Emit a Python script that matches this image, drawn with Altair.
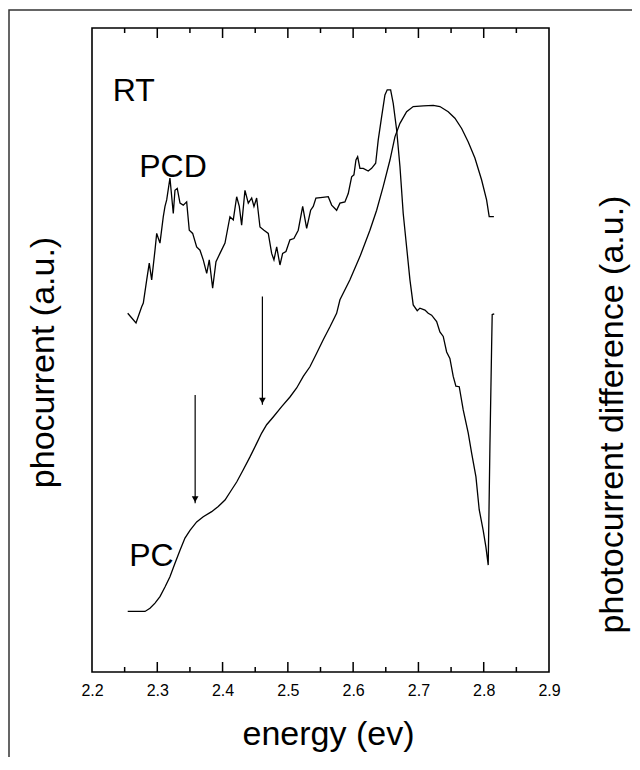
import altair as alt
import pandas as pd

# ---- data (energy in eV, signal in arbitrary units 0..100) ----
pcd_e = [2.2547, 2.2674, 2.2761, 2.2786, 2.2838, 2.2877, 2.2914, 2.2965, 2.2991, 2.3041,
         2.3092, 2.3118, 2.3144, 2.3194, 2.3245, 2.3271, 2.3306, 2.3348, 2.3398, 2.3450,
         2.3490, 2.3542, 2.3603, 2.3654, 2.3704, 2.3757, 2.3796, 2.3848, 2.3899, 2.3960,
         2.4037, 2.4113, 2.4164, 2.4216, 2.4256, 2.4292, 2.4343, 2.4394, 2.4446, 2.4481,
         2.4522, 2.4573, 2.4634, 2.4700, 2.4752, 2.4787, 2.4829, 2.4879, 2.4920, 2.4971,
         2.5032, 2.5093, 2.5159, 2.5227, 2.5288, 2.5349, 2.5389, 2.5430, 2.5533, 2.5619,
         2.5671, 2.5747, 2.5798, 2.5874, 2.5925, 2.5977, 2.6012, 2.6043, 2.6069, 2.6104,
         2.6155, 2.6231, 2.6283, 2.6345, 2.6384, 2.6436, 2.6487, 2.6522, 2.6574, 2.6614,
         2.6666, 2.6717, 2.6767, 2.6819, 2.6870, 2.6920, 2.6982, 2.7023, 2.7100, 2.7150,
         2.7202, 2.7279, 2.7329, 2.7380, 2.7432, 2.7482, 2.7533, 2.7574, 2.7625, 2.7686,
         2.7763, 2.7815, 2.7881, 2.7931, 2.7992, 2.8034, 2.8069, 2.8095, 2.8121, 2.8130,
         2.8161]
pcd_v = [55.7, 54.2, 56.7, 57.3, 60.9, 63.5, 60.9, 65.5, 68.1, 66.6,
         70.7, 72.3, 73.3, 76.7, 71.2, 74.8, 75.1, 72.8, 72.5, 73.0,
         68.6, 68.1, 66.0, 65.5, 64.0, 61.9, 64.0, 59.6, 63.7, 65.0,
         66.6, 70.7, 70.2, 73.8, 72.3, 69.4, 74.8, 72.8, 73.6, 72.3,
         73.6, 69.1, 68.6, 68.1, 65.0, 64.0, 66.0, 63.2, 65.0, 65.3,
         67.1, 67.3, 68.6, 72.3, 68.9, 71.7, 72.3, 73.6, 73.7, 73.8,
         72.5, 71.7, 72.8, 73.0, 74.3, 76.9, 77.2, 79.5, 80.0, 78.2,
         78.2, 77.8, 78.2, 79.0, 82.6, 86.2, 89.6, 90.4, 90.4, 88.3,
         84.2, 78.5, 71.2, 66.0, 60.9, 57.0, 56.1, 56.5, 56.2, 55.7,
         55.4, 54.4, 52.8, 52.1, 49.7, 48.7, 45.9, 44.4, 44.3, 40.7,
         37.1, 34.0, 30.3, 25.2, 22.0, 19.4, 16.6, 35.0, 50.5, 55.5,
         55.6]

pc_e = [2.2547, 2.2812, 2.2888, 2.2965, 2.3041, 2.3118, 2.3194, 2.3271, 2.3348, 2.3424,
        2.3501, 2.3603, 2.3704, 2.3833, 2.3934, 2.4037, 2.4139, 2.4216, 2.4317, 2.4420,
        2.4522, 2.4599, 2.4675, 2.4776, 2.4905, 2.5032, 2.5135, 2.5236, 2.5338, 2.5441,
        2.5542, 2.5645, 2.5747, 2.5798, 2.5951, 2.6104, 2.6257, 2.6360, 2.6461, 2.6564,
        2.6640, 2.6717, 2.6819, 2.6920, 2.7074, 2.7227, 2.7329, 2.7456, 2.7559, 2.7662,
        2.7763, 2.7865, 2.7968, 2.8044, 2.8084, 2.8156]
pc_v = [9.4, 9.4, 9.9, 10.7, 11.7, 13.2, 14.8, 16.9, 18.9, 20.8,
        22.0, 23.3, 24.1, 24.9, 25.7, 26.7, 28.3, 29.5, 31.4, 33.4,
        35.5, 37.1, 38.4, 39.6, 41.2, 42.7, 44.1, 45.9, 47.4, 49.5,
        51.6, 53.6, 55.7, 57.8, 60.9, 64.5, 68.6, 71.7, 75.4, 79.5,
        83.1, 85.2, 87.0, 87.8, 87.9, 88.0, 87.8, 87.0, 86.0, 84.4,
        82.3, 79.8, 76.4, 73.3, 70.7, 70.7]

arrow_e = [2.358, 2.461]
arrow_top = [43.0, 58.3]
arrow_tip = [26.2, 41.5]

label_text = ["RT", "PCD", "PC"]
label_e = [2.2317, 2.2724, 2.2571]
label_v = [88.7, 76.9, 16.4]

x_labels = [2.2, 2.3, 2.4, 2.5, 2.6, 2.7, 2.8, 2.9]
major_ticks = [2.3, 2.4, 2.5, 2.6, 2.7, 2.8]
minor_ticks = [2.25, 2.35, 2.45, 2.55, 2.65, 2.75, 2.85]

# ---- tables ----
pcd_df = pd.DataFrame({"e": pcd_e, "v": pcd_v, "i": range(len(pcd_e))})
pc_df = pd.DataFrame({"e": pc_e, "v": pc_v, "i": range(len(pc_e))})
arrow_df = pd.DataFrame({"e": arrow_e, "v": arrow_top, "v2": arrow_tip})
label_df = pd.DataFrame({"e": label_e, "v": label_v, "t": label_text})
tick_df = pd.DataFrame({
    "e": major_ticks + minor_ticks,
    "kind": ["major"] * len(major_ticks) + ["minor"] * len(minor_ticks),
})
frame_df = pd.DataFrame({"k": [0]})

W, H = 457, 644
FONT = "Liberation Sans"
TITLE_FS = 34
Y_MAX = 100.0
PX = Y_MAX / H  # value units per pixel

xs = alt.Scale(domain=[2.2, 2.9], nice=False, zero=False)
ys = alt.Scale(domain=[0, Y_MAX], nice=False, zero=False)

x_enc = alt.X(
    "e:Q", scale=xs,
    axis=alt.Axis(values=x_labels, format=".1f", ticks=False, domain=False, grid=False,
                  labelFlush=False, labelFontSize=16, labelPadding=10, labelColor="black",
                  labelFont=FONT, title="energy (ev)", titleFont=FONT, titleFontSize=TITLE_FS,
                  titleFontWeight="normal", titleColor="black", titleX=236, titleY=62,
                  titleBaseline="middle", titleAlign="center"))

pc_line = alt.Chart(pc_df).mark_line(color="black", strokeWidth=1.3).encode(
    x=x_enc,
    y=alt.Y("v:Q", scale=ys,
            axis=alt.Axis(orient="left", labels=False, ticks=False, domain=False, grid=False,
                          title="phocurrent (a.u.)", titleFont=FONT, titleFontSize=TITLE_FS,
                          titleFontWeight="normal", titleColor="black", titleAngle=270,
                          titleX=-49, titleY=334, titleBaseline="middle", titleAlign="center")),
    order="i:Q")

pcd_line = alt.Chart(pcd_df).mark_line(color="black", strokeWidth=1.3).encode(
    x=x_enc,
    y=alt.Y("v:Q", scale=ys,
            axis=alt.Axis(orient="right", labels=False, ticks=False, domain=False, grid=False,
                          title="photocurrent difference (a.u.)", titleFont=FONT,
                          titleFontSize=TITLE_FS, titleFontWeight="normal", titleColor="black",
                          titleAngle=270, titleX=63, titleY=386, titleBaseline="middle",
                          titleAlign="center")),
    order="i:Q")

arrows = alt.Chart(arrow_df).mark_rule(color="black", strokeWidth=1.2).encode(
    x=x_enc, y=alt.Y("v:Q", scale=ys, axis=None), y2="v2:Q")
heads = alt.Chart(arrow_df).mark_point(shape="triangle-down", filled=True, color="black",
                                       size=45, yOffset=-4, opacity=1).encode(
    x=x_enc, y=alt.Y("v2:Q", scale=ys, axis=None))

labels = alt.Chart(label_df).mark_text(align="left", baseline="alphabetic", font=FONT,
                                       fontSize=32, color="black").encode(
    x=x_enc, y=alt.Y("v:Q", scale=ys, axis=None), text="t:N")

# inward ticks on bottom and top edges (lengths in pixels converted to scale units)
ticks = alt.Chart(tick_df).transform_calculate(
    ln=f"datum.kind === 'major' ? {10 * PX} : {5 * PX}",
    b0="0",
    t0=f"{Y_MAX}",
).transform_calculate(
    b1="datum.b0 + datum.ln",
    t1="datum.t0 - datum.ln",
)
bot_ticks = ticks.mark_rule(color="black", strokeWidth=1.5).encode(
    x=x_enc, y=alt.Y("b0:Q", scale=ys, axis=None), y2="b1:Q")
top_ticks = ticks.mark_rule(color="black", strokeWidth=1.5).encode(
    x=x_enc, y=alt.Y("t0:Q", scale=ys, axis=None), y2="t1:Q")

# outer figure frame (only its top and left edges fall inside the page)
frame = alt.Chart(frame_df).mark_rect(fillOpacity=0, stroke="#333", strokeWidth=1.5).encode(
    x=alt.value(-83), x2=alt.value(600), y=alt.value(-18), y2=alt.value(800))

chart = alt.layer(
    pc_line, pcd_line, arrows, heads, labels, bot_ticks, top_ticks, frame
).resolve_scale(y="independent").properties(
    width=W, height=H,
    background="white",
    autosize=alt.AutoSizeParams(type="none"),
    padding={"left": 84, "top": 20, "right": 83, "bottom": 85},
).configure_view(stroke="black", strokeWidth=1.6)

chart.save("out.html", embed_options={"renderer": "svg", "actions": False})
